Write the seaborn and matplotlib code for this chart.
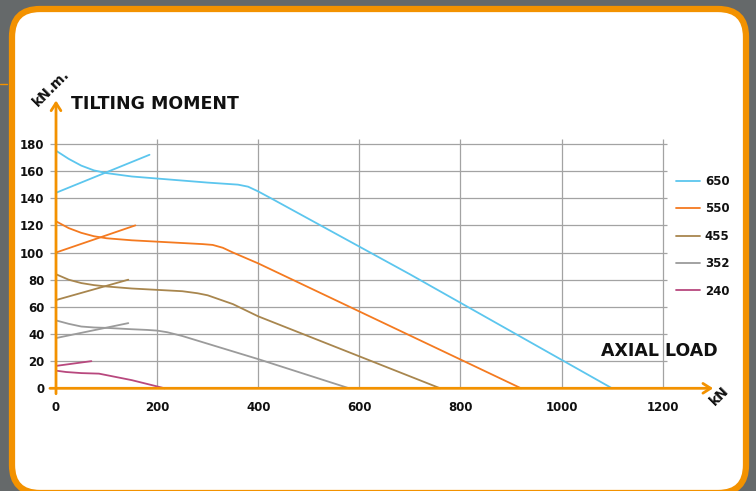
"""
Tilting moment vs axial load chart for slewing bearing sizes.
"""

import matplotlib
matplotlib.use('Agg')
import matplotlib.pyplot as plt
from matplotlib.patches import FancyBboxPatch
from matplotlib.lines import Line2D
import seaborn as sns
import pandas as pd

# bearing sizes (legend order)
sizes = ['650', '550', '455', '352', '240']
colors = ['#5cc6ee', '#f47a20', '#a8864e', '#9b9b9b', '#b8487e']

# main limit curves (axial load kN, tilting moment kN.m)
load_650 = [0, 25, 50, 75, 100, 150, 200, 250, 300, 340, 360, 380, 400, 430, 700, 1100]
moment_650 = [175, 169, 164, 160.5, 158.5, 156, 154.5, 153, 151.5, 150.5, 150, 148.5, 145, 139, 84, 0]
load_550 = [0, 25, 50, 75, 100, 150, 200, 250, 290, 310, 330, 350, 400, 920]
moment_550 = [123, 118, 114.5, 112, 110.5, 109, 108, 107, 106.2, 105.6, 103.5, 100, 92, 0]
load_455 = [0, 25, 50, 75, 100, 150, 200, 250, 280, 300, 350, 400, 760]
moment_455 = [84, 80, 77.5, 76, 75, 73.5, 72.5, 71.5, 70, 68.5, 62, 53, 0]
load_352 = [0, 25, 50, 75, 100, 150, 180, 200, 220, 250, 400, 580]
moment_352 = [50, 47.5, 45.5, 44.8, 44.5, 43.5, 43, 42.5, 41.3, 38.5, 21.5, 0]
load_240 = [0, 20, 50, 85, 150, 215]
moment_240 = [13, 12, 11.2, 10.8, 6, 0]

# short rising lines at low axial load
rise_load = {'650': [0, 185], '550': [0, 157], '455': [0, 143], '352': [0, 143], '240': [0, 70]}
rise_moment = {'650': [144, 172], '550': [100, 120], '455': [65, 80], '352': [37, 48], '240': [16.5, 20]}

x_ticks = [0, 200, 400, 600, 800, 1000, 1200]
y_ticks = [0, 20, 40, 60, 80, 100, 120, 140, 160, 180]

main_load = dict(zip(sizes, [load_650, load_550, load_455, load_352, load_240]))
main_moment = dict(zip(sizes, [moment_650, moment_550, moment_455, moment_352, moment_240]))

rows = []
for s in sizes:
    for x, y in zip(main_load[s], main_moment[s]):
        rows.append({'size': s, 'part': s + '_main', 'load': x, 'moment': y})
    for x, y in zip(rise_load[s], rise_moment[s]):
        rows.append({'size': s, 'part': s + '_rise', 'load': x, 'moment': y})
df = pd.DataFrame(rows)

ORANGE = '#f39200'
GRID = '#a3a3a3'
INK = '#111111'
FONT = ['DejaVu Sans']

sns.set_style('white')
plt.rcParams['font.family'] = FONT

fig = plt.figure(figsize=(7.56, 4.91), dpi=100)
fig.patch.set_facecolor('#65696a')

# background frame in pixel coordinates
bg = fig.add_axes([0, 0, 1, 1], zorder=0)
bg.set_xlim(0, 756)
bg.set_ylim(491, 0)
bg.axis('off')
bg.add_patch(FancyBboxPatch((12, 9), 734, 484, boxstyle='round,pad=0,rounding_size=28',
                            facecolor='white', edgecolor=ORANGE, linewidth=4.5))
bg.plot([0, 7], [84, 84], color=ORANGE, lw=1)

# main axes: 0 kN at x=56px, 0 kN.m at y=388.7px
ax = fig.add_axes([0.06071, 0.1981, 0.8960, 0.6056], zorder=1)
ax.patch.set_alpha(0)
ax.set_xlim(-20, 1320)
ax.set_ylim(-4, 215)
for sp in ax.spines.values():
    sp.set_visible(False)

ax.hlines(y_ticks[1:], -12, 1208, color=GRID, lw=0.9, zorder=1)
ax.vlines(x_ticks[1:], 0, 183.5, color=GRID, lw=0.9, zorder=1)

sns.lineplot(data=df, x='load', y='moment', hue='size', units='part', estimator=None,
             sort=False, palette=dict(zip(sizes, colors)), legend=False, lw=1.3,
             ax=ax, zorder=2)

arrow = dict(arrowstyle='->,head_length=0.55,head_width=0.35', color=ORANGE, lw=2,
             shrinkA=0, shrinkB=0)
ax.annotate('', xy=(1300, 0), xytext=(-12, 0), arrowprops=arrow, zorder=3)
ax.annotate('', xy=(0, 212), xytext=(0, -4), arrowprops=arrow, zorder=3)

ax.set_xticks(x_ticks)
ax.set_yticks(y_ticks)
ax.set_xticklabels([str(v) for v in x_ticks], fontweight='bold', fontsize=8.5)
ax.set_yticklabels([str(v) for v in y_ticks], fontweight='bold', fontsize=8.5)
ax.tick_params(axis='both', length=0, colors=INK)
ax.tick_params(axis='x', pad=5)
ax.tick_params(axis='y', pad=1)
ax.set_xlabel('')
ax.set_ylabel('')

# axis titles
bg.text(71, 104, 'TILTING MOMENT', fontsize=12.5, fontweight='bold', color=INK,
        va='center', ha='left')
bg.text(718, 350.5, 'AXIAL LOAD', fontsize=12.5, fontweight='bold', color=INK,
        va='center', ha='right')
bg.text(51, 88, 'kN.m.', fontsize=10, fontweight='bold', color=INK, rotation=45,
        va='center', ha='center', rotation_mode='anchor')
bg.text(719, 396, 'kN', fontsize=10, fontweight='bold', color=INK, rotation=45,
        va='center', ha='center', rotation_mode='anchor')

handles = [Line2D([], [], color=c, lw=1.3) for c in colors]
fig.legend(handles, sizes, loc='upper left', bbox_to_anchor=(676 / 756, 1 - 175 / 491),
           bbox_transform=fig.transFigure, frameon=False, borderpad=0, borderaxespad=0,
           handlelength=2.0, handletextpad=0.45, labelspacing=1.22,
           prop={'family': FONT, 'weight': 'bold', 'size': 8.5})
for t in fig.legends[0].get_texts():
    t.set_color(INK)

plt.savefig('out.png', dpi=100)
plt.close()
